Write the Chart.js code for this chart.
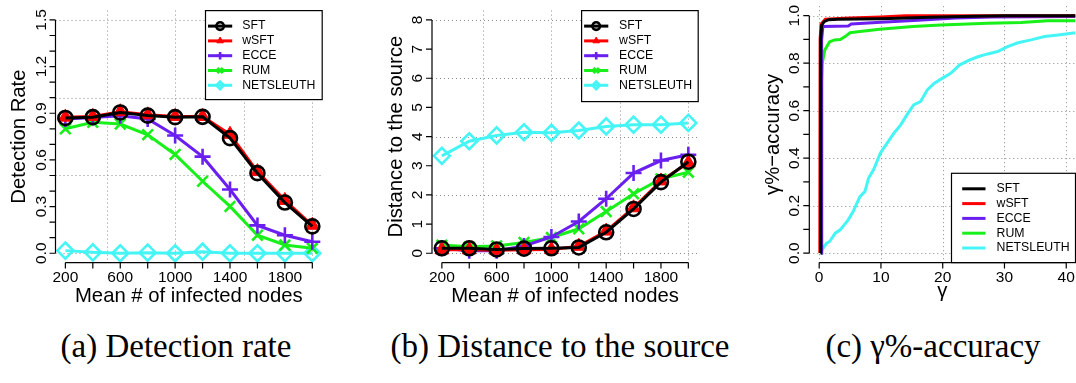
<!DOCTYPE html>
<html>
<head>
<meta charset="utf-8">
<script src="https://cdn.jsdelivr.net/npm/chart.js@4.4.1/dist/chart.umd.min.js"></script>
<style>
  body { margin: 0; background: #fff; width: 1076px; height: 383px; overflow: hidden; position: relative; }
  canvas { position: absolute; top: 0; }
  .cap { position: absolute; top: 330px; width: 360px; text-align: center; font: 33px/33px "Liberation Serif", "Times New Roman", serif; color: #000; white-space: nowrap; }
</style>
</head>
<body>
<canvas id="detChart" width="358" height="310" style="left:0"></canvas>
<canvas id="distChart" width="358" height="310" style="left:358px"></canvas>
<canvas id="accChart" width="358" height="310" style="left:718px"></canvas>
<div class="cap" style="left:-4px">(a) Detection rate</div>
<div class="cap" style="left:380px">(b) Distance to the source</div>
<div class="cap" style="left:753px">(c) γ%-accuracy</div>
<script>
// x values shared by the first two plots
const infectedNodes = [200, 400, 600, 800, 1000, 1200, 1400, 1600, 1800, 2000];

// (a) detection rate
const detSFT = [0.87, 0.875, 0.905, 0.885, 0.875, 0.877, 0.74, 0.515, 0.326, 0.173];
const detWSFT = [0.875, 0.88, 0.91, 0.89, 0.88, 0.88, 0.765, 0.525, 0.34, 0.18];
const detECCE = [0.863, 0.873, 0.884, 0.863, 0.757, 0.621, 0.41, 0.179, 0.116, 0.074];
const detRUM = [0.80, 0.842, 0.831, 0.762, 0.635, 0.463, 0.301, 0.116, 0.053, 0.032];
const detNETSLEUTH = [0.017, 0.006, 0, 0.004, 0, 0.01, 0, 0, 0, 0];

// (b) distance to the source
const distSFT = [0.17, 0.17, 0.13, 0.16, 0.17, 0.2, 0.72, 1.52, 2.44, 3.14];
const distWSFT = [0.12, 0.12, 0.1, 0.12, 0.13, 0.24, 0.76, 1.56, 2.48, 3.1];
const distECCE = [0.17, 0.09, 0.09, 0.25, 0.56, 1.09, 1.87, 2.75, 3.18, 3.38];
const distRUM = [0.28, 0.22, 0.25, 0.37, 0.54, 0.84, 1.43, 2.04, 2.55, 2.78];
const distNETSLEUTH = [3.34, 3.84, 4.04, 4.15, 4.13, 4.21, 4.35, 4.41, 4.41, 4.47];

// (c) gamma%-accuracy curves
const gamSFT = [0.2, 0.25, 0.4, 0.8, 1.5, 3, 10, 18, 25, 30, 41.5];
const accSFT = [0, 0.9, 0.96, 0.975, 0.983, 0.985, 0.987, 0.993, 0.998, 1.0, 1.0];
const gamWSFT = [0.1, 0.15, 0.3, 1.0, 5, 10, 14, 41.5];
const accWSFT = [0, 0.9, 0.965, 0.985, 0.99, 0.995, 1.0, 1.0];
const gamECCE = [0.35, 0.4, 0.6, 4.7, 5.2, 10, 16, 22, 28, 41.5];
const accECCE = [0, 0.9, 0.955, 0.957, 0.965, 0.972, 0.981, 0.99, 0.995, 0.997];
const gamRUM = [0.35, 0.4, 0.5, 0.9, 1.7, 2.5, 3.4, 4.2, 5.0, 6.6, 9.8, 15.2, 19.7, 27.3, 32.7, 37, 41.5];
const accRUM = [0, 0.72, 0.8, 0.855, 0.89, 0.898, 0.9, 0.912, 0.928, 0.933, 0.943, 0.954, 0.961, 0.968, 0.971, 0.979, 0.979];
const gamNETSLEUTH = [0.1, 1.2, 1.7, 2.6, 3.4, 4.7, 5.5, 6.6, 7.4, 8.0, 8.8, 9.9, 11.0, 12.1, 13.2, 14.2, 15.3, 16.4, 17.5, 18.6, 19.9, 21.3, 22.7, 24.3, 25.7, 27.3, 28.9, 30.5, 32.2, 34.3, 36.5, 38.7, 41.5];
const accNETSLEUTH = [0, 0.042, 0.049, 0.084, 0.098, 0.14, 0.175, 0.238, 0.259, 0.316, 0.351, 0.421, 0.463, 0.505, 0.54, 0.582, 0.624, 0.638, 0.687, 0.715, 0.736, 0.757, 0.792, 0.813, 0.827, 0.839, 0.849, 0.87, 0.886, 0.898, 0.912, 0.919, 0.928];

// tick positions and tick labels
const nodeTicks = [200, 400, 600, 800, 1000, 1200, 1400, 1600, 1800, 2000];
const nodeTickLabels = ['200', '600', '1000', '1400', '1800'];
const detTicks = [0, 0.1, 0.2, 0.3, 0.4, 0.5, 0.6, 0.7, 0.8, 0.9, 1.0, 1.1, 1.2, 1.3, 1.4, 1.5];
const detTickLabels = ['0.0', '0.3', '0.6', '0.9', '1.2', '1.5'];
const distTicks = [0, 1, 2, 3, 4, 5, 6, 7, 8];
const distTickLabels = ['0', '1', '2', '3', '4', '5', '6', '7', '8'];
const gamTicks = [0, 10, 20, 30, 40];
const gamTickLabels = ['0', '10', '20', '30', '40'];
const accTicks = [0, 0.1, 0.2, 0.3, 0.4, 0.5, 0.6, 0.7, 0.8, 0.9, 1.0];
const accTickLabels = ['0.0', '0.2', '0.4', '0.6', '0.8', '1.0'];

const COLORS = {SFT: '#000000', wSFT: '#ff0000', ECCE: '#6a1ff0', RUM: '#19f019', NETSLEUTH: '#45f5f5'};
const SANS = '"Liberation Sans", Arial, sans-serif';

// R-like axes: dotted grid, axis lines spanning first..last tick, rotated y labels, boxed legend
const rStyle = {
  id: 'rStyle',
  beforeDatasetsDraw(chart, args, o) {
    const {ctx, chartArea: a} = chart;
    const x = chart.scales.x, y = chart.scales.y;
    ctx.save();
    ctx.strokeStyle = '#8c8c8c';
    ctx.lineWidth = 1;
    ctx.setLineDash([1, 3]);
    ctx.beginPath();
    o.gridX.forEach(v => {
      const px = Math.round(x.getPixelForValue(v)) + 0.5;
      ctx.moveTo(px, a.top); ctx.lineTo(px, a.bottom);
    });
    o.gridY.forEach(v => {
      const py = Math.round(y.getPixelForValue(v)) + 0.5;
      ctx.moveTo(a.left, py); ctx.lineTo(a.right, py);
    });
    ctx.stroke();
    ctx.restore();
  },
  afterDraw(chart, args, o) {
    const {ctx, chartArea: a} = chart;
    const x = chart.scales.x, y = chart.scales.y;
    ctx.save();
    ctx.strokeStyle = '#000';
    ctx.fillStyle = '#000';
    ctx.lineWidth = 1.2;

    const xs = o.xTicks.map(v => x.getPixelForValue(v));
    const ys = o.yTicks.map(v => y.getPixelForValue(v));
    ctx.beginPath();
    ctx.moveTo(xs[0], a.bottom); ctx.lineTo(xs[xs.length - 1], a.bottom);
    xs.forEach(px => { ctx.moveTo(px, a.bottom); ctx.lineTo(px, a.bottom + 6); });
    ctx.moveTo(a.left, ys[0]); ctx.lineTo(a.left, ys[ys.length - 1]);
    ys.forEach(py => { ctx.moveTo(a.left, py); ctx.lineTo(a.left - 6, py); });
    ctx.stroke();

    ctx.font = '15.5px ' + SANS;
    ctx.textAlign = 'center';
    ctx.textBaseline = 'alphabetic';
    o.xLabels.forEach(s => ctx.fillText(s, x.getPixelForValue(Number(s)), a.bottom + 19.5));
    o.yLabels.forEach(s => {
      ctx.save();
      ctx.translate(a.left - 10, y.getPixelForValue(Number(s)));
      ctx.rotate(-Math.PI / 2);
      ctx.fillText(s, 0, 0);
      ctx.restore();
    });

    ctx.font = '20.3px ' + SANS;
    ctx.fillText(o.xTitle, (a.left + a.right) / 2, a.bottom + o.xTitleGap);
    ctx.save();
    ctx.translate(a.left - 30.5, (a.top + a.bottom) / 2);
    ctx.rotate(-Math.PI / 2);
    ctx.fillText(o.yTitle, 0, 0);
    ctx.restore();

    // legend box
    const lg = o.legend;
    const bx = a.right - lg.w;
    const by = lg.bottom ? a.bottom - lg.h : a.top;
    ctx.fillStyle = '#fff';
    ctx.fillRect(bx, by, lg.w, lg.h);
    ctx.strokeStyle = '#000';
    ctx.lineWidth = 1.2;
    ctx.strokeRect(bx, by, lg.w, lg.h);
    ctx.font = '12.3px ' + SANS;
    ctx.textAlign = 'left';
    ctx.textBaseline = 'middle';
    chart.data.datasets.forEach((ds, i) => {
      const cy = by + 15.5 + i * 14.8;
      ctx.strokeStyle = ds.borderColor;
      ctx.lineWidth = ds.borderWidth;
      ctx.beginPath();
      ctx.moveTo(bx + lg.lineFrom, cy);
      ctx.lineTo(bx + lg.lineTo, cy);
      ctx.stroke();
      if (ds.pointRadius) {
        ctx.fillStyle = ds.pointBackgroundColor;
        ctx.lineWidth = ds.pointBorderWidth;
        Chart.helpers.drawPoint(ctx, {pointStyle: ds.pointStyle, radius: lg.marker, borderWidth: ds.pointBorderWidth, rotation: 0},
          bx + (lg.lineFrom + lg.lineTo) / 2, cy);
      }
      ctx.fillStyle = '#000';
      ctx.fillText(ds.label, bx + lg.textX, cy);
    });
    ctx.restore();
  }
};

function pts(xv, yv) {
  return xv.map((v, i) => ({x: v, y: yv[i]}));
}

function marked(label, values, style, radius, filled) {
  return {
    label: label,
    data: pts(infectedNodes, values),
    borderColor: COLORS[label],
    borderWidth: 3,
    tension: 0,
    pointStyle: style,
    pointRadius: radius,
    pointBorderColor: COLORS[label],
    pointBorderWidth: filled ? 1 : 2.6,
    pointBackgroundColor: filled ? COLORS[label] : 'rgba(0,0,0,0)'
  };
}

function curve(label, xv, yv) {
  return {
    label: label,
    data: pts(xv, yv),
    borderColor: COLORS[label],
    borderWidth: 3,
    tension: 0,
    pointRadius: 0
  };
}

function makeChart(id, datasets, pad, xr, yr, axes) {
  return new Chart(document.getElementById(id), {
    type: 'line',
    data: {datasets: datasets},
    options: {
      responsive: false,
      animation: false,
      events: [],
      layout: {padding: pad},
      scales: {
        x: {type: 'linear', min: xr[0], max: xr[1], display: false},
        y: {type: 'linear', min: yr[0], max: yr[1], display: false}
      },
      plugins: {legend: {display: false}, tooltip: {enabled: false}, rStyle: axes}
    },
    plugins: [rStyle]
  });
}

makeChart('detChart', [
  marked('SFT', detSFT, 'circle', 7, false),
  marked('wSFT', detWSFT, 'triangle', 8, true),
  marked('ECCE', detECCE, 'cross', 8, false),
  marked('RUM', detRUM, 'crossRot', 7.5, false),
  marked('NETSLEUTH', detNETSLEUTH, 'rectRot', 8, false)
], {left: 55.5, right: 35.8, top: 6.2, bottom: 47.4}, [128, 2072], [-0.06, 1.56], {
  xTicks: nodeTicks, xLabels: nodeTickLabels, yTicks: detTicks, yLabels: detTickLabels,
  gridX: [500, 1000, 1500, 2000], gridY: [0, 0.5, 1.0, 1.5],
  xTitle: 'Mean # of infected nodes', xTitleGap: 39, yTitle: 'Detection Rate',
  legend: {w: 116.7, h: 89, bottom: false, lineFrom: 2.5, lineTo: 26.7, textX: 36.7, marker: 3.8}
});

makeChart('distChart', [
  marked('SFT', distSFT, 'circle', 7, false),
  marked('wSFT', distWSFT, 'triangle', 8, true),
  marked('ECCE', distECCE, 'cross', 8, false),
  marked('RUM', distRUM, 'crossRot', 7.5, false),
  marked('NETSLEUTH', distNETSLEUTH, 'rectRot', 8, false)
], {left: 74, right: 17.8, top: 6.2, bottom: 47.4}, [128, 2072], [-0.32, 8.32], {
  xTicks: nodeTicks, xLabels: nodeTickLabels, yTicks: distTicks, yLabels: distTickLabels,
  gridX: [500, 1000, 1500, 2000], gridY: [0, 2, 4, 6, 8],
  xTitle: 'Mean # of infected nodes', xTitleGap: 39, yTitle: 'Distance to the source',
  legend: {w: 116.6, h: 91, bottom: false, lineFrom: 2.5, lineTo: 26.7, textX: 37.5, marker: 3.8}
});

makeChart('accChart', [
  curve('SFT', gamSFT, accSFT),
  curve('wSFT', gamWSFT, accWSFT),
  curve('ECCE', gamECCE, accECCE),
  curve('RUM', gamRUM, accRUM),
  curve('NETSLEUTH', gamNETSLEUTH, accNETSLEUTH)
], {left: 91.3, right: 0.5, top: 6.2, bottom: 47.4}, [-1.6, 41.5], [-0.04, 1.04], {
  xTicks: gamTicks, xLabels: gamTickLabels, yTicks: accTicks, yLabels: accTickLabels,
  gridX: [0, 10, 20, 30, 40], gridY: [0, 0.2, 0.4, 0.6, 0.8, 1.0],
  xTitle: 'γ', xTitleGap: 34, yTitle: 'γ%−accuracy',
  legend: {w: 124, h: 89.3, bottom: true, lineFrom: 10.7, lineTo: 34, textX: 45, marker: 0}
});
</script>
</body>
</html>
